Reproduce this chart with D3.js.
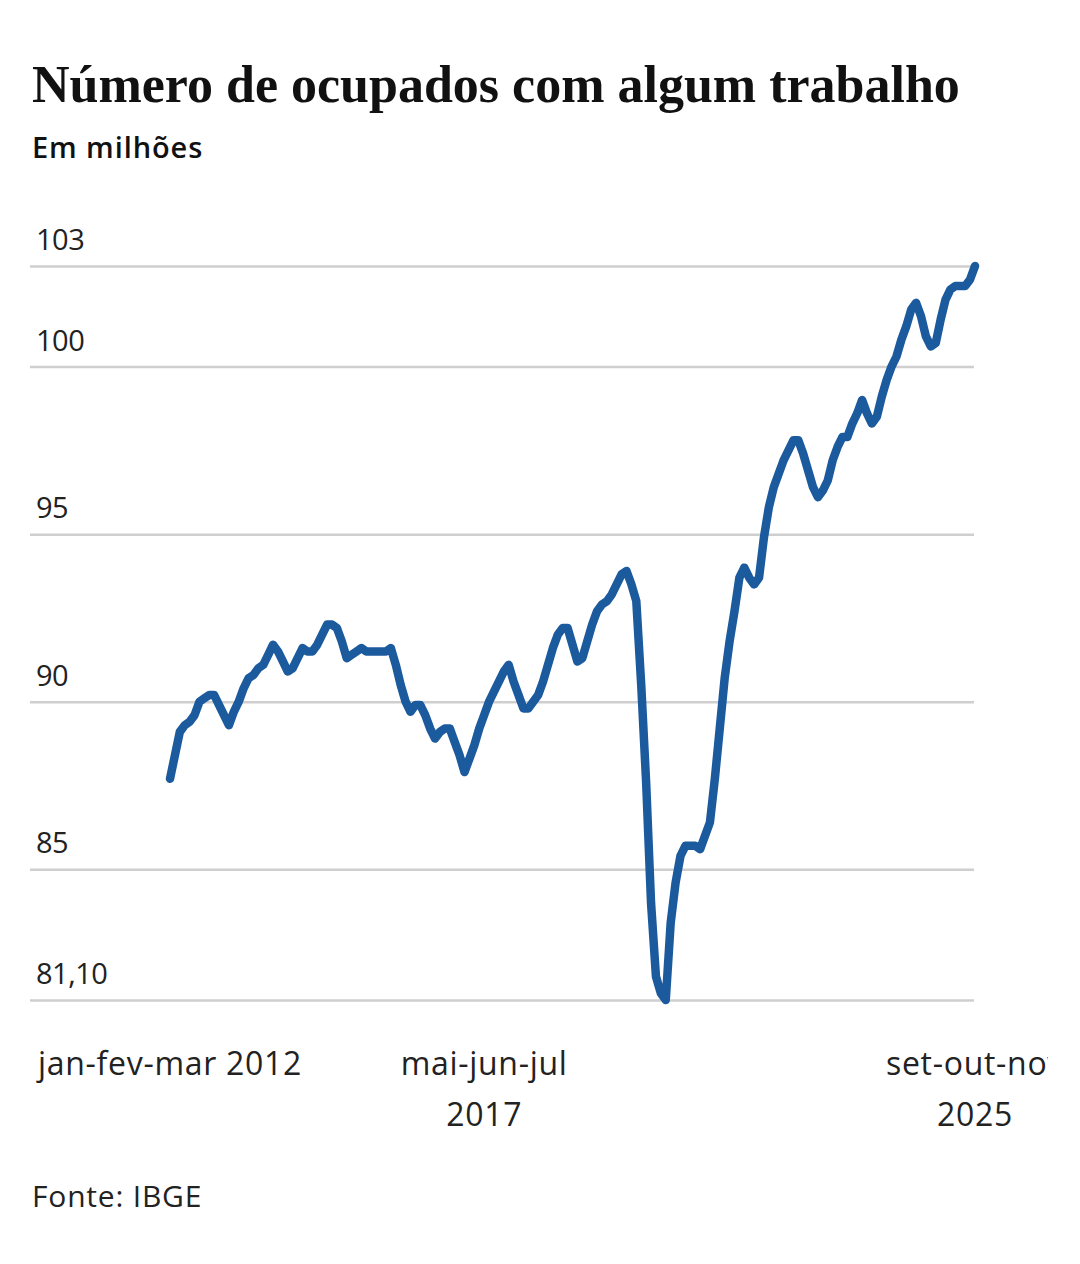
<!DOCTYPE html>
<html>
<head>
<meta charset="utf-8">
<script src="https://cdn.jsdelivr.net/npm/d3@7"></script>
<style>
  body { margin: 0; background: #fff; }
  svg { display: block; }
  .sans { font-family: "Open Sans", "Noto Sans", sans-serif; }
</style>
</head>
<body>
<svg id="chart"></svg>
<script>
// trimestres móveis, jan-fev-mar 2012 ... set-out-nov 2025
const meses = ['jan', 'fev', 'mar', 'abr', 'mai', 'jun', 'jul', 'ago', 'set', 'out', 'nov', 'dez'];
const anoInicial = 2012;

// ocupados, em milhões
const ocupados = [
  87.7, 88.4, 89.1, 89.3, 89.4, 89.6, 90.0, 90.1, 90.2, 90.2, 89.9, 89.6,
  89.3, 89.7, 90.0, 90.4, 90.7, 90.8, 91.0, 91.1, 91.4, 91.7, 91.5, 91.2,
  90.9, 91.0, 91.3, 91.6, 91.5, 91.5, 91.7, 92.0, 92.3, 92.3, 92.2, 91.8,
  91.3, 91.4, 91.5, 91.6, 91.5, 91.5, 91.5, 91.5, 91.5, 91.6, 91.1, 90.5,
  90.0, 89.7, 89.9, 89.9, 89.6, 89.2, 88.9, 89.1, 89.2, 89.2, 88.8, 88.4,
  87.9, 88.3, 88.7, 89.2, 89.6, 90.0, 90.3, 90.6, 90.9, 91.1, 90.6, 90.2,
  89.8, 89.8, 90.0, 90.2, 90.6, 91.1, 91.6, 92.0, 92.2, 92.2, 91.7, 91.2,
  91.3, 91.8, 92.3, 92.7, 92.9, 93.0, 93.2, 93.5, 93.8, 93.9, 93.5, 93.0,
  90.5, 87.6, 84.0, 81.8, 81.3, 81.1, 83.4, 84.6, 85.4, 85.7, 85.7, 85.7,
  85.6, 86.0, 86.4, 87.7, 89.2, 90.7, 91.8, 92.7, 93.7, 94.0, 93.7, 93.5,
  93.7, 94.9, 95.8, 96.4, 96.8, 97.2, 97.5, 97.8, 97.8, 97.4, 96.9, 96.4,
  96.1, 96.3, 96.6, 97.2, 97.6, 97.9, 97.9, 98.3, 98.6, 99.0, 98.6, 98.3,
  98.5, 99.1, 99.6, 100.0, 100.3, 100.8, 101.2, 101.7, 101.9, 101.5, 100.9, 100.6,
  100.7, 101.4, 102.0, 102.3, 102.4, 102.4, 102.4, 102.6, 103.0
];

const yTicks = [81.1, 85, 90, 95, 100, 103];
const yTickLabels = ['81,10', '85', '90', '95', '100', '103'];

const xTickPeriods = ['jan-fev-mar 2012', 'mai-jun-jul 2017', 'set-out-nov 2025'];
const xTickLines = [['jan-fev-mar 2012'], ['mai-jun-jul', '2017'], ['set-out-nov', '2025']];

const periodos = ocupados.map((v, i) => {
  const m = i % 12;
  const ano = anoInicial + Math.floor((i + 2) / 12);
  return `${meses[m]}-${meses[(m + 1) % 12]}-${meses[(m + 2) % 12]} ${ano}`;
});
const data = periodos.map((p, i) => ({ periodo: p, valor: ocupados[i] }));

const W = 1080, H = 1264;
const margin = { top: 266, right: 106, bottom: 264, left: 30 };
const plotLeft = 170;   // primeiro ponto
const plotRight = 975;  // último ponto
const gridRight = 974;

const svg = d3.select('#chart').attr('width', W).attr('height', H);
svg.append('rect').attr('width', W).attr('height', H).attr('fill', '#fff');

const x = d3.scalePoint()
  .domain(periodos)
  .range([plotLeft, plotRight]);

const y = d3.scaleLinear()
  .domain([81.1, 103])
  .range([H - margin.bottom, margin.top]);

// título
svg.append('text')
  .attr('x', 32).attr('y', 102)
  .style('font-family', '"Liberation Serif", "DejaVu Serif", serif')
  .style('font-weight', 'bold')
  .style('font-size', '52px')
  .attr('fill', '#111')
  .text('Número de ocupados com algum trabalho');

svg.append('text')
  .attr('class', 'sans')
  .attr('x', 32).attr('y', 158)
  .style('font-size', '29px')
  .style('font-weight', 600)
  .style('letter-spacing', '0.9px')
  .attr('fill', '#111')
  .text('Em milhões');

// eixo y + linhas de grade
const yAxis = svg.append('g')
  .attr('class', 'axis axis--y sans')
  .attr('transform', `translate(${margin.left},0)`)
  .call(d3.axisRight(y)
    .tickValues(yTicks)
    .tickSize(gridRight - margin.left)
    .tickFormat((d, i) => yTickLabels[i]));

yAxis.select('.domain').remove();
yAxis.selectAll('.tick line')
  .attr('stroke', '#cfcfcf')
  .attr('stroke-width', 2.5);
yAxis.selectAll('.tick text')
  .attr('x', 6)
  .attr('dy', -16.5)
  .attr('text-anchor', 'start')
  .style('font-size', '29px')
  .style('letter-spacing', '-0.5px')
  .style('font-family', '"Open Sans", "Noto Sans", sans-serif')
  .attr('fill', '#222');

// linha
const line = d3.line()
  .x(d => x(d.periodo))
  .y(d => y(d.valor));

svg.append('path')
  .datum(data)
  .attr('fill', 'none')
  .attr('stroke', '#1c5a9e')
  .attr('stroke-width', 8.5)
  .attr('stroke-linejoin', 'round')
  .attr('stroke-linecap', 'round')
  .attr('d', line);

// eixo x (rótulos)
svg.append('clipPath').attr('id', 'clipX')
  .append('rect').attr('x', 0).attr('y', 1000).attr('width', 1048).attr('height', 200);

const xAxis = svg.append('g')
  .attr('class', 'axis axis--x sans')
  .attr('clip-path', 'url(#clipX)');

xTickPeriods.forEach((p, i) => {
  const t = xAxis.append('text')
    .attr('x', x(p))
    .attr('y', 1075)
    .attr('text-anchor', 'middle')
    .style('font-size', '32px')
    .style('letter-spacing', '0.7px')
    .attr('fill', '#222');
  xTickLines[i].forEach((s, j) => {
    t.append('tspan')
      .attr('x', x(p))
      .attr('dy', j === 0 ? 0 : 51)
      .text(s);
  });
});

svg.append('text')
  .attr('class', 'sans')
  .attr('x', 32).attr('y', 1207)
  .style('font-size', '30px')
  .style('letter-spacing', '0.8px')
  .attr('fill', '#222')
  .text('Fonte: IBGE');
</script>
</body>
</html>
